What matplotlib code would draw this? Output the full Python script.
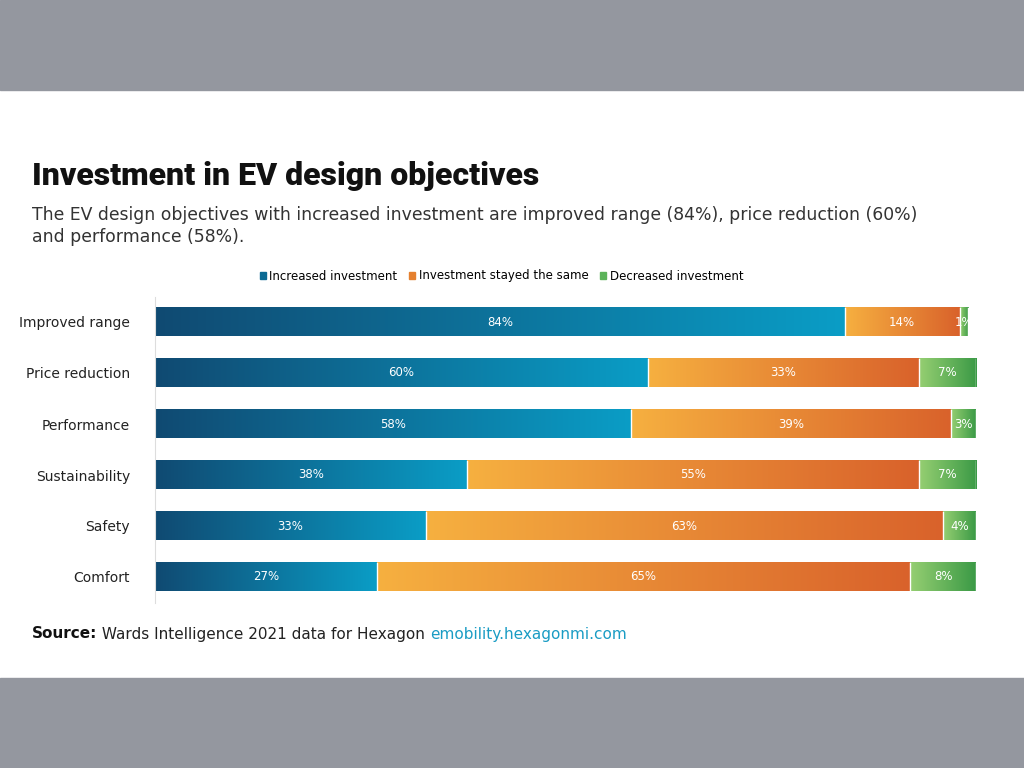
import matplotlib
matplotlib.use("Agg")
import matplotlib.pyplot as plt
from matplotlib.colors import LinearSegmentedColormap
from matplotlib.patches import Rectangle
from matplotlib.transforms import offset_copy
import numpy as np

categories = ["Improved range", "Price reduction", "Performance", "Sustainability", "Safety", "Comfort"]
increased = [84, 60, 58, 38, 33, 27]
same = [14, 33, 39, 55, 63, 65]
decreased = [1, 7, 3, 7, 4, 8]
series_names = ["Increased investment", "Investment stayed the same", "Decreased investment"]

# gradients (gauche -> droite)
cmaps = [
    LinearSegmentedColormap.from_list("b", ["#104a72", "#0a9dc6"]),
    LinearSegmentedColormap.from_list("o", ["#f6b040", "#d9622b"]),
    LinearSegmentedColormap.from_list("g", ["#96cf72", "#3b9a46"]),
]
solid = ["#0b6a94", "#e5802f", "#5cb35a"]

fig = plt.figure(figsize=(10.24, 7.68), dpi=100)
fig.patch.set_facecolor("white")

# bandes grises
for y0 in (0, 678):
    fig.add_artist(Rectangle((0, 1 - (y0 + 90) / 768), 1, 90 / 768, transform=fig.transFigure,
                             color="#94979f", zorder=0))

ax = fig.add_axes([155 / 1024, 1 - 602.5 / 768, 821 / 1024, 306 / 768])
grad = np.linspace(0, 1, 256).reshape(1, -1)
h = 0.56
for i, cat in enumerate(categories):
    left = 0
    for s, vals in enumerate([increased, same, decreased]):
        v = vals[i]
        ax.imshow(grad, cmap=cmaps[s], aspect="auto",
                  extent=(left, left + v, i + h / 2, i - h / 2), zorder=2)
        ax.plot([left + v, left + v], [i - h / 2, i + h / 2], color="white", lw=1, zorder=3)
        ax.text(left + v / 2, i, f"{v}%", ha="center", va="center", color="white", fontsize=8.5, zorder=4)
        left += v
ax.set_xlim(0, 100)
ax.set_ylim(len(categories) - 0.5, -0.5)
ax.set_yticks(range(len(categories)))
ax.set_yticklabels(categories, fontsize=10, color="#222222")
ax.tick_params(axis="y", length=0, pad=18)
ax.set_xticks([])
for sp in ["top", "right", "bottom"]:
    ax.spines[sp].set_visible(False)
ax.spines["left"].set_color("#dddddd")

# légende
handles = [Rectangle((0, 0), 1, 1, color=c) for c in solid]
fig.legend(handles, series_names, loc="center", bbox_to_anchor=(0.49, 1 - 276 / 768), ncol=3,
           frameon=False, fontsize=8.5, handlelength=0.5, handleheight=0.5, handletextpad=0.3,
           columnspacing=1.0)

fig.text(32 / 1024, 1 - 176 / 768, "Investment in EV design objectives", fontsize=23,
         family="Roboto", fontweight="black", va="center", color="#111111")
fig.text(32 / 1024, 1 - 226 / 768,
         "The EV design objectives with increased investment are improved range (84%), price reduction (60%)\nand performance (58%).",
         fontsize=12.4, va="center", color="#333333", linespacing=1.3)

# ligne source, morceaux enchaines
renderer = fig.canvas.get_renderer()
x = 32
for txt, wt, col in [("Source:", "bold", "#111111"),
                     (" Wards Intelligence 2021 data for Hexagon ", "normal", "#222222"),
                     ("emobility.hexagonmi.com", "normal", "#1a9cc4")]:
    t = fig.text(x / 1024, 1 - 634 / 768, txt, fontsize=11, fontweight=wt, va="center", color=col)
    x += t.get_window_extent(renderer).width

plt.savefig("out.png", dpi=100)
plt.close()
